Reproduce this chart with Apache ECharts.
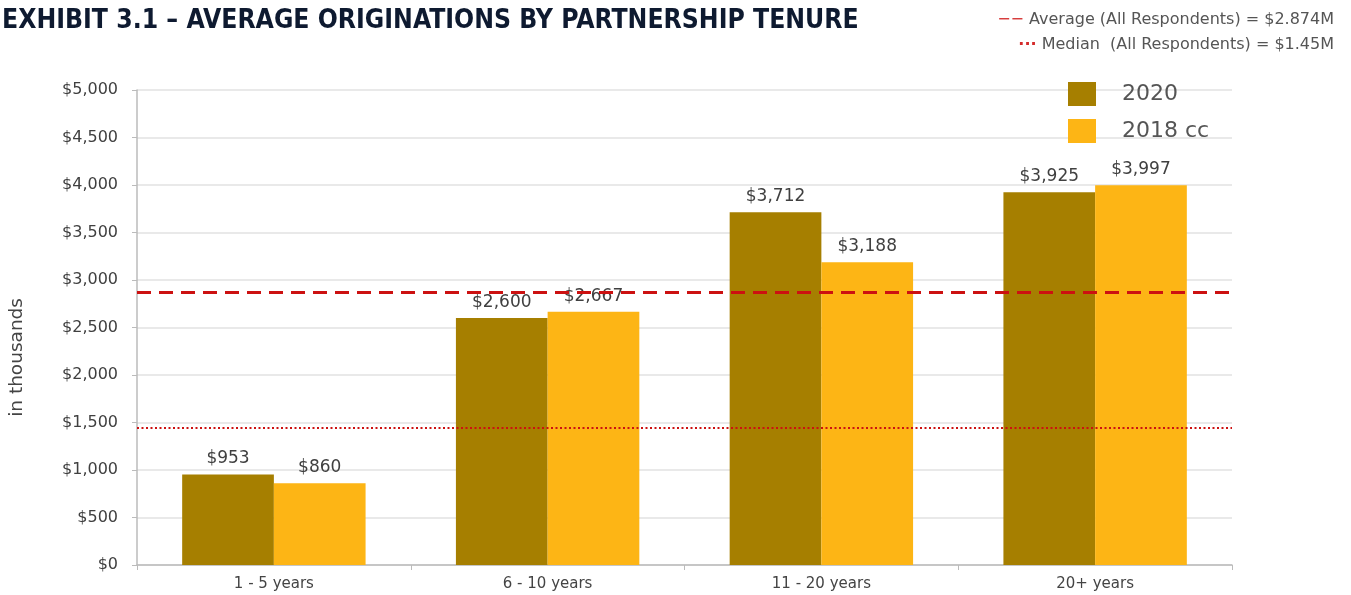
<!DOCTYPE html>
<html>
<head>
<meta charset="UTF-8">
<title>Exhibit 3.1</title>
<script src="https://cdn.jsdelivr.net/npm/echarts@6/dist/echarts.min.js"></script>
<style>
  html, body { margin: 0; padding: 0; background: #fff; }
  #chart { width: 1351px; height: 595px; }
</style>
</head>
<body>
<div id="chart"></div>
<script type="text/javascript">
	// data read from the exhibit
	var categories = ['1 - 5 years', '6 - 10 years', '11 - 20 years', '20+ years'];
	var seriesNames = ['2020', '2018 cc'];
	var values2020 = [953, 2600, 3712, 3925];
	var values2018 = [860, 2667, 3188, 3997];
	var averageAll = 2874;	// $2.874M
	var medianAll = 1450;	// $1.45M
	var yTicks = { min: 0, max: 5000, interval: 500 };

	var FONT = '"DejaVu Sans", sans-serif';
	var fmt = function (v) {
		return '$' + Math.round(v).toLocaleString('en-US');
	};

	var chart = echarts.init(document.getElementById('chart'));
	var option = {
		animation: false,
		textStyle: { fontFamily: FONT },
		title: {
			text: 'EXHIBIT 3.1 – AVERAGE ORIGINATIONS BY PARTNERSHIP TENURE',
			left: -3,
			top: 3,
			textStyle: {
				fontFamily: '"Liberation Sans Narrow", "DejaVu Sans Condensed", sans-serif',
				fontSize: 26.3,
				fontWeight: 'bold',
				color: '#0e1a30'
			}
		},
		graphic: [{
			type: 'text',
			right: 17,
			top: 12,
			style: {
				text: '{r|−−} Average (All Respondents) = $2.874M',
				font: '16px ' + FONT,
				fill: '#555',
				rich: { r: { fill: '#d42a2a', fontSize: 16, fontFamily: FONT } }
			}
		}, {
			type: 'text',
			right: 17,
			top: 37,
			style: {
				text: '{r|···} Median  (All Respondents) = $1.45M',
				font: '16px ' + FONT,
				fill: '#555',
				rich: { r: { fill: '#d42a2a', fontSize: 16, fontFamily: FONT, fontWeight: 'bold' } }
			}
		}, {
			type: 'text',
			left: 8,
			top: 298,
			rotation: Math.PI / 2,
			style: {
				text: 'in thousands',
				font: '18.5px ' + FONT,
				fill: '#444'
			}
		}],
		legend: {
			data: seriesNames,
			orient: 'vertical',
			left: 1063,
			top: 77,
			itemWidth: 28,
			itemHeight: 24,
			itemGap: 13,
			icon: 'rect',
			selectedMode: false,
			textStyle: { fontSize: 22, color: '#555', padding: [3, 0, 0, 21] }
		},
		grid: { left: 137, right: 119, top: 90, bottom: 30, containLabel: false },
		xAxis: {
			type: 'category',
			data: categories,
			axisLine: { lineStyle: { color: '#bbb', width: 1.5 } },
			axisTick: { show: true, alignWithLabel: false, length: 5, lineStyle: { color: '#bbb' } },
			axisLabel: { fontSize: 15, color: '#444', margin: 12 }
		},
		yAxis: {
			type: 'value',
			min: yTicks.min,
			max: yTicks.max,
			interval: yTicks.interval,
			axisLine: { show: true, lineStyle: { color: '#bbb', width: 1.5 } },
			axisTick: { show: true, length: 5, lineStyle: { color: '#bbb' } },
			axisLabel: { fontSize: 16, color: '#404040', margin: 19, formatter: fmt },
			splitLine: { lineStyle: { color: '#e2e2e2', width: 1.5 } }
		},
		series: [{
			name: seriesNames[0],
			type: 'bar',
			data: values2020,
			barGap: '0%',
			barCategoryGap: '33%',
			itemStyle: { color: '#a67f00' },
			label: { show: true, position: 'top', fontSize: 17, color: '#404040', distance: 7, formatter: function (p) { return fmt(p.value); } },
			markLine: {
				silent: true,
				symbol: 'none',
				label: { show: false },
				data: [
					{ yAxis: averageAll, lineStyle: { color: '#cc1111', type: [14, 8], width: 3 } },
					{ yAxis: medianAll, lineStyle: { color: '#cc1111', type: [2, 2.5], width: 2 } }
				]
			},
			z: 2
		}, {
			name: seriesNames[1],
			type: 'bar',
			data: values2018,
			itemStyle: { color: '#fdb515' },
			label: { show: true, position: 'top', fontSize: 17, color: '#404040', distance: 7, formatter: function (p) { return fmt(p.value); } },
			z: 2
		}]
	};
	chart.setOption(option);
</script>
</body>
</html>
